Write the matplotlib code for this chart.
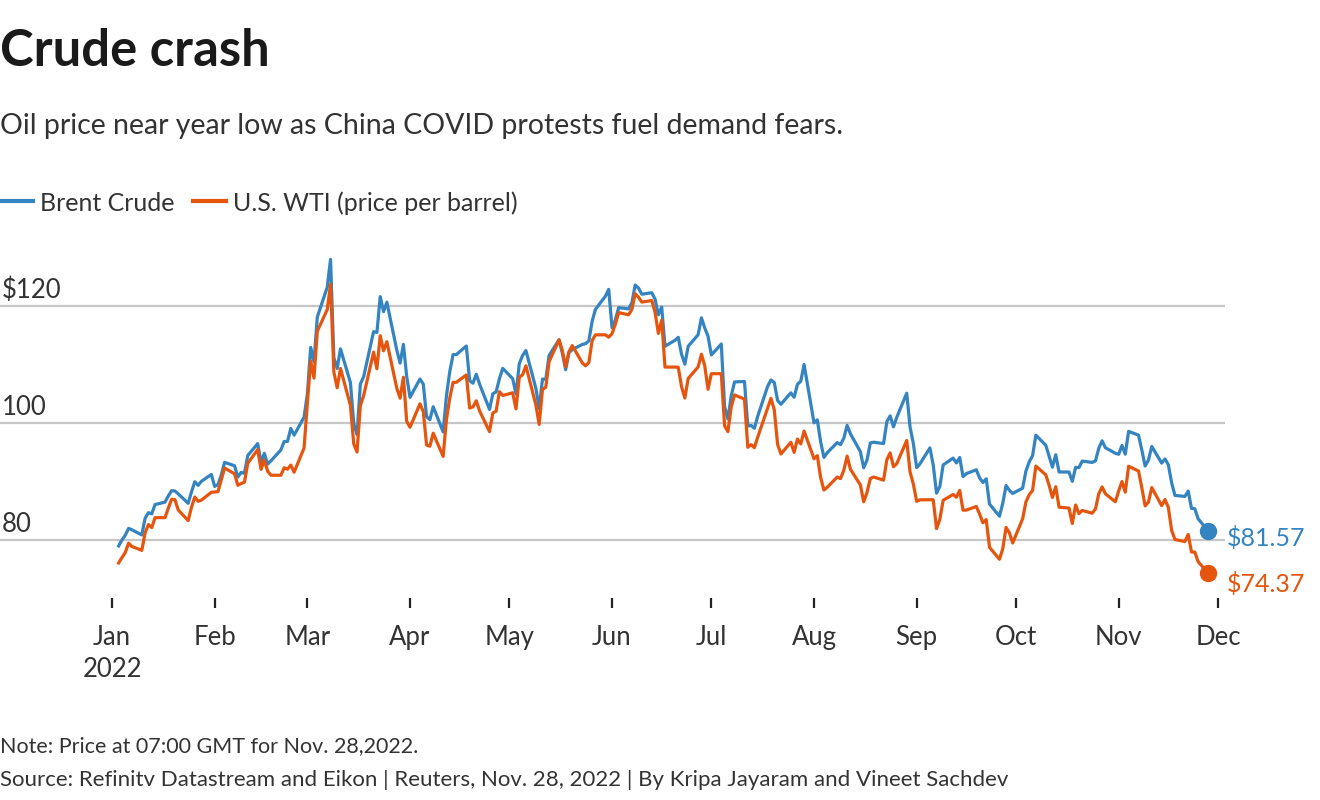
import matplotlib
matplotlib.use("Agg")
import matplotlib.pyplot as plt
import matplotlib.dates as mdates
from matplotlib.lines import Line2D
import pandas as pd

plt.rcParams['font.family'] = ['Lato', 'DejaVu Sans']

# ---------------- data (daily, business days Jan 3 - Nov 28, 2022) ----------------
start_date = "2022-01-03"
end_date = "2022-11-28"

brent = [
    # Jan
    78.98, 80.00, 80.80, 81.99, 81.75, 80.87, 83.72, 84.67, 84.47, 86.06,
    86.48, 87.51, 88.44, 88.38, 87.89, 86.27, 88.20, 89.96, 89.34, 90.03, 91.21,
    # Feb
    89.16, 89.47, 91.11, 93.27, 92.69, 90.78, 91.55, 91.41, 94.44, 96.48,
    93.28, 94.81, 92.97, 93.54, 95.39, 96.84, 96.84, 99.08, 97.93, 100.99,
    # Mar
    104.97, 112.93, 110.46, 118.11, 123.21, 127.98, 111.14, 109.33, 112.67,
    106.90, 99.91, 98.02, 106.64, 107.93, 115.62, 115.48, 121.60, 119.03, 120.65,
    112.48, 110.23, 113.45, 107.91,
    # Apr
    104.39, 107.53, 106.64, 101.07, 100.58, 102.78, 98.48, 104.64, 108.78, 111.70,
    111.70, 113.16, 107.25, 106.80, 108.33, 106.65, 102.32, 104.99, 105.32, 107.59, 109.34,
    # May
    107.58, 104.97, 110.14, 111.55, 112.39, 105.94, 102.46, 107.51, 107.45, 111.55,
    114.24, 111.93, 109.11, 112.04, 112.55, 113.42, 113.56, 114.03, 117.40, 119.43,
    121.67, 122.84,
    # Jun
    116.29, 117.61, 119.72, 119.51, 120.57, 123.58, 123.07, 122.01, 122.27, 121.17,
    118.51, 119.81, 113.12, 114.13, 114.65, 111.74, 110.05, 113.12, 115.09, 117.98,
    116.26, 114.81,
    # Jul
    111.63, 113.50, 102.77, 100.69, 104.65, 107.02, 107.10, 99.49, 99.57, 99.10,
    101.16, 106.27, 107.35, 106.92, 103.86, 103.20, 105.15, 104.40, 106.62, 107.14, 110.01,
    # Aug
    100.03, 100.54, 96.78, 94.12, 94.92, 96.65, 96.31, 97.40, 99.60, 98.15,
    95.10, 92.34, 93.65, 96.59, 96.72, 96.48, 100.22, 101.22, 99.34, 100.99,
    105.09, 99.31, 96.49,
    # Sep
    92.36, 93.02, 95.74, 92.83, 88.00, 89.15, 92.84, 94.00, 93.17, 94.10,
    90.84, 91.35, 92.00, 90.62, 89.83, 90.46, 86.15, 84.06, 86.27, 89.32, 88.49, 87.96,
    # Oct
    88.86, 91.80, 93.37, 94.42, 97.92, 96.19, 94.29, 92.45, 94.57, 91.63,
    91.62, 90.03, 92.41, 92.38, 93.50, 93.26, 93.52, 95.69, 96.96, 95.77, 94.83,
    # Nov
    94.65, 96.16, 94.67, 98.57, 97.92, 95.36, 92.65, 93.67, 95.99, 93.14,
    93.86, 92.86, 89.78, 87.62, 87.45, 88.36, 85.41, 85.34, 83.63, 81.57,
]

wti = [
    # Jan
    76.08, 76.99, 77.85, 79.46, 78.90, 78.23, 81.22, 82.64, 82.12, 83.82,
    83.82, 85.43, 86.96, 86.90, 85.14, 83.31, 85.60, 87.35, 86.61, 86.82, 88.15,
    # Feb
    88.20, 88.26, 90.27, 92.31, 91.32, 89.36, 89.66, 89.88, 93.10, 95.46,
    92.07, 93.66, 91.76, 91.07, 91.07, 92.35, 92.10, 92.81, 91.59, 95.72,
    # Mar
    103.41, 110.60, 107.67, 115.68, 119.40, 123.70, 108.70, 106.02, 109.33,
    103.01, 96.44, 95.04, 102.98, 104.70, 112.12, 109.27, 114.93, 112.34, 113.90,
    105.96, 104.24, 107.82, 100.28,
    # Apr
    99.27, 103.28, 101.96, 96.23, 96.03, 98.26, 94.29, 100.60, 104.25, 106.95,
    106.95, 108.21, 102.56, 102.75, 103.79, 102.07, 98.54, 101.70, 102.02, 105.36, 104.69,
    # May
    105.17, 102.41, 107.81, 108.26, 109.77, 103.09, 99.76, 105.71, 106.13, 110.49,
    114.20, 112.40, 109.59, 112.21, 113.23, 110.29, 109.77, 110.33, 114.09, 115.07,
    115.07, 114.67,
    # Jun
    115.26, 116.87, 118.87, 118.50, 119.41, 122.11, 121.51, 120.67, 120.93, 118.93,
    115.31, 117.59, 109.56, 109.56, 109.52, 106.19, 104.27, 107.62, 109.57, 111.76,
    109.78, 105.76,
    # Jul
    108.43, 108.43, 99.50, 98.53, 102.73, 104.79, 104.09, 95.84, 96.30, 95.78,
    97.59, 102.60, 104.22, 102.26, 96.35, 94.70, 96.70, 94.98, 97.26, 96.42, 98.62,
    # Aug
    93.89, 94.42, 90.66, 88.54, 89.01, 90.76, 90.50, 91.93, 94.34, 92.09,
    89.41, 86.53, 88.11, 90.50, 90.77, 90.23, 93.74, 94.89, 92.52, 93.06,
    97.01, 91.64, 89.55,
    # Sep
    86.61, 86.87, 86.87, 86.88, 81.94, 83.54, 86.79, 87.78, 87.31, 88.48,
    85.10, 85.11, 85.73, 84.45, 82.94, 83.49, 78.74, 76.71, 78.50, 82.15, 81.23, 79.49,
    # Oct
    83.63, 86.52, 87.76, 88.45, 92.64, 91.13, 89.35, 87.27, 89.11, 85.61,
    85.46, 82.82, 85.98, 84.51, 85.05, 84.58, 85.32, 87.91, 89.08, 87.90, 86.53,
    # Nov
    88.37, 90.00, 88.17, 92.61, 91.79, 88.91, 85.83, 86.47, 88.96, 85.87,
    86.92, 85.59, 81.64, 80.08, 79.73, 80.95, 77.94, 77.94, 76.28, 74.37,
]

series_names = ["Brent Crude", "U.S. WTI (price per barrel)"]
month_labels = ["Jan\n2022", "Feb", "Mar", "Apr", "May", "Jun", "Jul", "Aug",
                "Sep", "Oct", "Nov", "Dec"]
y_grid = [80, 100, 120]
y_labels = ["80", "100", "$120"]

dates = pd.bdate_range(start_date, end_date)
assert len(dates) == len(brent) == len(wti), (len(dates), len(brent), len(wti))

# ---------------- styling ----------------
BLUE = "#3484c1"
ORANGE = "#e6550d"
TEXT = "#333333"
GRID = "#c6c6c6"

W, H = 1320, 800
fig = plt.figure(figsize=(W / 100, H / 100), dpi=100)
fig.patch.set_facecolor("white")

def fx(px):
    return px / W

def fy(py):
    return 1 - py / H

# axes: pixel left 0 .. right 1225, top 240 .. bottom 598
ax_top, ax_bot, ax_right = 240, 598, 1225
ax = fig.add_axes([0, fy(ax_bot), fx(ax_right), (ax_bot - ax_top) / H])
ax.set_facecolor("none")

# y scale: 80 at pixel 540, 5.85 px per unit
ppu = 5.85
ax.set_ylim(80 - (ax_bot - 540) / ppu, 80 + (540 - ax_top) / ppu)

# x scale: Jan 1 at pixel 112, Dec 1 at pixel 1218
jan1 = mdates.date2num(pd.Timestamp("2022-01-01"))
dec1 = mdates.date2num(pd.Timestamp("2022-12-01"))
ppd = (1218 - 112) / (dec1 - jan1)
ax.set_xlim(jan1 - 112 / ppd, dec1 + (ax_right - 1218) / ppd)

for s in ax.spines.values():
    s.set_visible(False)

FS = 18.5
for v, lab in zip(y_grid, y_labels):
    ax.axhline(v, color=GRID, lw=1.6, zorder=1)
    ax.annotate(lab, xy=(0, v), xycoords=("axes fraction", "data"),
                xytext=(2, 8), textcoords="offset pixels",
                ha="left", va="baseline", fontsize=FS, color=TEXT)

ax.plot(dates, brent, color=BLUE, lw=2.3, zorder=3, solid_joinstyle="round")
ax.plot(dates, wti, color=ORANGE, lw=2.3, zorder=3, solid_joinstyle="round")

ax.plot(dates[-1], brent[-1], "o", color=BLUE, ms=11.5, zorder=4, clip_on=False)
ax.plot(dates[-1], wti[-1], "o", color=ORANGE, ms=11.5, zorder=4, clip_on=False)
ax.annotate(f"${brent[-1]:.2f}", xy=(dates[-1], brent[-1]), xytext=(19, -7),
            textcoords="offset pixels", ha="left", va="center", fontsize=18,
            color=BLUE, annotation_clip=False)
ax.annotate(f"${wti[-1]:.2f}", xy=(dates[-1], wti[-1]), xytext=(19, -11),
            textcoords="offset pixels", ha="left", va="center", fontsize=18,
            color=ORANGE, annotation_clip=False)

month_ticks = pd.date_range("2022-01-01", "2022-12-01", freq="MS")
ax.set_xticks(month_ticks)
ax.set_xticklabels(month_labels, fontsize=FS, color=TEXT, linespacing=1.35)
ax.tick_params(axis="x", length=7.5, width=1.6, color="#222222", pad=12,
               direction="out")
ax.set_yticks([])

# ---------------- header ----------------
fig.text(fx(0), fy(66), "Crude crash", fontsize=36.5, fontweight="bold",
         color="#1a1a1a", va="baseline", ha="left")
fig.text(fx(0), fy(134), "Oil price near year low as China COVID protests fuel demand fears.",
         fontsize=20.5, color=TEXT, va="baseline", ha="left")

# legend
leg_y = fy(201)
fig.add_artist(Line2D([fx(0), fx(33)], [leg_y, leg_y], color=BLUE, lw=3,
                      transform=fig.transFigure))
fig.text(fx(40), fy(211), series_names[0], fontsize=18,
         color=TEXT, va="baseline", ha="left")
fig.add_artist(Line2D([fx(193), fx(226)], [leg_y, leg_y], color=ORANGE, lw=3,
                      transform=fig.transFigure))
fig.text(fx(233), fy(211), series_names[1], fontsize=18,
         color=TEXT, va="baseline", ha="left")

# footer
fig.text(fx(0), fy(752), "Note: Price at 07:00 GMT for Nov. 28,2022.",
         fontsize=15.5, color=TEXT, va="baseline", ha="left")
fig.text(fx(0), fy(786),
         "Source: Refinitv Datastream and Eikon | Reuters, Nov. 28, 2022 | By Kripa Jayaram and Vineet Sachdev",
         fontsize=16, color=TEXT, va="baseline", ha="left")

fig.savefig("out.png", dpi=100, facecolor="white")
